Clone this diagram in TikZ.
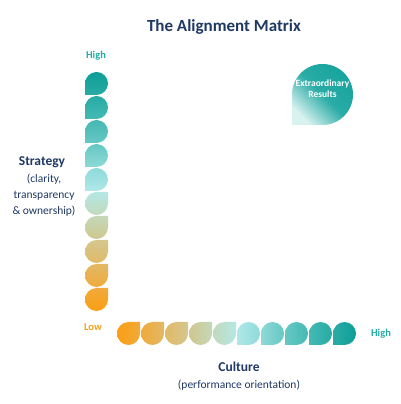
\documentclass[tikz,border=0pt]{standalone}
\usepackage{fontspec}
\setmainfont{Carlito}
\definecolor{navy}{HTML}{1F3864}
\definecolor{hiteal}{HTML}{22ADA8}
\definecolor{loorange}{HTML}{F5A11C}
\definecolor{bigteal}{HTML}{17A49E}
\definecolor{bigpale}{HTML}{D8F2F0}
% shading colours, from high (teal) to low (orange): top / bottom
\definecolor{t1}{HTML}{0E9E98}\definecolor{b1}{HTML}{2AABA5}
\definecolor{t2}{HTML}{27AAA4}\definecolor{b2}{HTML}{45B9B4}
\definecolor{t3}{HTML}{45B8B3}\definecolor{b3}{HTML}{66C8C4}
\definecolor{t4}{HTML}{66C8C4}\definecolor{b4}{HTML}{8ED9D7}
\definecolor{t5}{HTML}{8FDADA}\definecolor{b5}{HTML}{B0E8E8}
\definecolor{t6}{HTML}{B4E8E4}\definecolor{b6}{HTML}{C3D9BC}
\definecolor{t7}{HTML}{C4D8B8}\definecolor{b7}{HTML}{D0C78F}
\definecolor{t8}{HTML}{D4C78E}\definecolor{b8}{HTML}{E1BA66}
\definecolor{t9}{HTML}{E2B864}\definecolor{b9}{HTML}{F0AA3C}
\definecolor{t10}{HTML}{F1AA3B}\definecolor{b10}{HTML}{FA9E14}
% teardrop with square bottom-left corner: x, y, size, style
\newcommand\dropBL[4]{\path[#4] ({#1},{#2}) -- ++({#3/2},0) arc[start angle=-90,end angle=180,radius={#3/2}] -- cycle;}
% teardrop with square top-right corner
\newcommand\dropTR[4]{\path[#4] ({#1+#3},{#2+#3}) -- ++({-#3/2},0) arc[start angle=90,end angle=360,radius={#3/2}] -- cycle;}
\tikzset{
  titletext/.style={font=\bfseries\fontsize{17}{20}\selectfont, text=navy},
  axistitle/.style={font=\bfseries\fontsize{13.5}{16}\selectfont, text=navy},
  axissub/.style={font=\fontsize{11.5}{16}\selectfont, text=navy, align=center},
  hilabel/.style={font=\bfseries\fontsize{10.5}{12}\selectfont, text=hiteal},
  lolabel/.style={font=\bfseries\fontsize{10.5}{12}\selectfont, text=loorange},
  bigtext/.style={font=\bfseries\fontsize{9.5}{12}\selectfont, text=white, align=center},
}
\begin{document}
\begin{tikzpicture}[x=1pt,y=1pt]
\useasboundingbox (0,0) rectangle (400,404);
% vertical column (Strategy)
\foreach \i in {1,...,10}{
  \pgfmathsetmacro\yy{309-24*(\i-1)}
  \ifnum\i<6
    \dropBL{85}{\yy}{23}{top color=t\i, bottom color=b\i}
  \else
    \dropTR{85}{\yy}{23}{top color=t\i, bottom color=b\i}
  \fi
}
% horizontal row (Culture)
\foreach \j in {1,...,10}{
  \pgfmathtruncatemacro\k{11-\j}
  \pgfmathsetmacro\xx{117+24*(\j-1)}
  \ifnum\j<6
    \dropTR{\xx}{59}{23}{left color=b\k, right color=t\k}
  \else
    \dropBL{\xx}{59}{23}{left color=b\k, right color=t\k}
  \fi
}
% extraordinary results
\dropBL{292}{279}{61}{top color=bigteal, bottom color=bigpale, middle color=bigteal!92!white, shading angle=-45}
\node[bigtext] (er) at (322.5,315) {Extraordinary\\[-1pt]Results};
% texts
\node[titletext] (title) at (224,377) {The Alignment Matrix};
\node[hilabel] (vhigh) at (96,348) {High};
\node[lolabel] (vlow) at (93,77) {Low};
\node[hilabel] (hhigh) at (381,70) {High};
\node[axistitle] (strat) at (42,242) {Strategy};
\node[axissub, anchor=north] (stratsub) at (44,233) {(clarity,\\transparency\\\& ownership)};
\node[axistitle] (cult) at (239,37) {Culture};
\node[axissub] (cultsub) at (239,19) {(performance orientation)};
\end{tikzpicture}
\end{document}
